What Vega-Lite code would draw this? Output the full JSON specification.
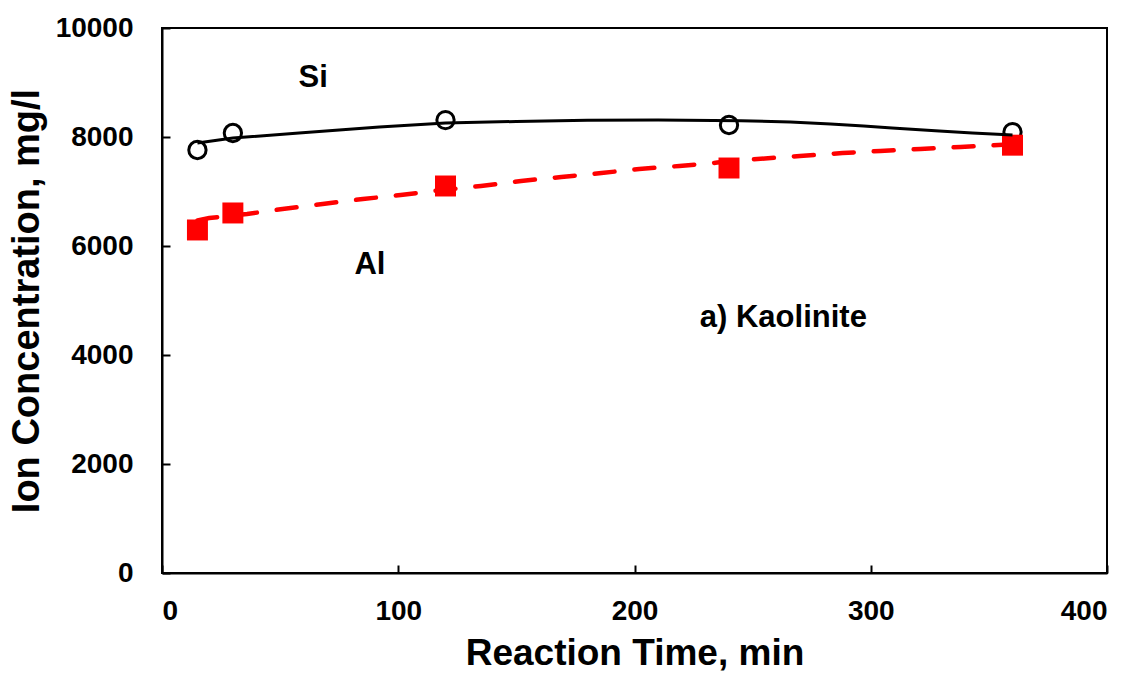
{
  "$schema": "https://vega.github.io/schema/vega-lite/v6.json",
  "width": 945,
  "height": 545,
  "autosize": "none",
  "padding": {"left": 162, "top": 28, "right": 28, "bottom": 100},
  "background": "white",
  "config": {
    "font": "Liberation Sans",
    "view": {"stroke": "black", "strokeWidth": 2},
    "axis": {
      "domainColor": "black", "domainWidth": 2,
      "tickColor": "black", "tickWidth": 2, "tickSize": -8,
      "grid": false,
      "labelFont": "Liberation Sans", "labelFontWeight": "bold", "labelFontSize": 28, "labelColor": "black",
      "titleFont": "Liberation Sans", "titleFontWeight": "bold", "titleFontSize": 37, "titleColor": "black"
    }
  },
  "datasets": {
    "obs": [
      {"series": "Si", "time": 15, "conc": 7761},
      {"series": "Si", "time": 30, "conc": 8073},
      {"series": "Si", "time": 120, "conc": 8310},
      {"series": "Si", "time": 240, "conc": 8220},
      {"series": "Si", "time": 360, "conc": 8090},
      {"series": "Al", "time": 15, "conc": 6294},
      {"series": "Al", "time": 30, "conc": 6606},
      {"series": "Al", "time": 120, "conc": 7101},
      {"series": "Al", "time": 240, "conc": 7431},
      {"series": "Al", "time": 360, "conc": 7850}
    ],
    "fit": [
      {"series": "Si", "time": 15, "conc": 7890},
      {"series": "Si", "time": 30, "conc": 7982},
      {"series": "Si", "time": 58, "conc": 8073},
      {"series": "Si", "time": 92, "conc": 8183},
      {"series": "Si", "time": 120, "conc": 8257},
      {"series": "Si", "time": 150, "conc": 8285},
      {"series": "Si", "time": 180, "conc": 8308},
      {"series": "Si", "time": 210, "conc": 8312},
      {"series": "Si", "time": 245, "conc": 8300},
      {"series": "Si", "time": 266, "conc": 8275},
      {"series": "Si", "time": 283, "conc": 8239},
      {"series": "Si", "time": 297, "conc": 8202},
      {"series": "Si", "time": 309, "conc": 8165},
      {"series": "Si", "time": 329, "conc": 8110},
      {"series": "Si", "time": 343, "conc": 8073},
      {"series": "Si", "time": 360, "conc": 8037},
      {"series": "Al", "time": 15, "conc": 6470},
      {"series": "Al", "time": 20, "conc": 6514},
      {"series": "Al", "time": 36, "conc": 6587},
      {"series": "Al", "time": 51, "conc": 6679},
      {"series": "Al", "time": 68, "conc": 6771},
      {"series": "Al", "time": 85, "conc": 6862},
      {"series": "Al", "time": 101, "conc": 6936},
      {"series": "Al", "time": 115, "conc": 7009},
      {"series": "Al", "time": 135, "conc": 7101},
      {"series": "Al", "time": 152, "conc": 7193},
      {"series": "Al", "time": 169, "conc": 7266},
      {"series": "Al", "time": 186, "conc": 7339},
      {"series": "Al", "time": 202, "conc": 7413},
      {"series": "Al", "time": 219, "conc": 7468},
      {"series": "Al", "time": 235, "conc": 7530},
      {"series": "Al", "time": 250, "conc": 7590},
      {"series": "Al", "time": 270, "conc": 7651},
      {"series": "Al", "time": 288, "conc": 7706},
      {"series": "Al", "time": 304, "conc": 7743},
      {"series": "Al", "time": 321, "conc": 7780},
      {"series": "Al", "time": 338, "conc": 7817},
      {"series": "Al", "time": 354, "conc": 7853},
      {"series": "Al", "time": 360, "conc": 7865}
    ],
    "labels": [
      {"text": "Si", "time": 64, "conc": 9083},
      {"text": "Al", "time": 88, "conc": 5651},
      {"text": "a) Kaolinite", "time": 263, "conc": 4679}
    ]
  },
  "encoding": {
    "x": {"field": "time", "type": "quantitative", "scale": {"domain": [0, 400], "nice": false, "zero": false},
      "axis": {"values": [0, 100, 200, 300, 400], "title": "Reaction Time, min", "labelPadding": 32, "titlePadding": 10}},
    "y": {"field": "conc", "type": "quantitative", "scale": {"domain": [0, 10000], "nice": false},
      "axis": {"values": [0, 2000, 4000, 6000, 8000, 10000], "format": "d", "title": "Ion Concentration, mg/l", "labelPadding": 37, "titlePadding": 9, "titleFontSize": 38}}
  },
  "layer": [
    {
      "data": {"name": "obs"},
      "transform": [{"filter": "datum.series === 'Si'"}],
      "mark": {"type": "point", "shape": "circle", "filled": false, "stroke": "black", "strokeWidth": 3, "size": 300, "opacity": 1}
    },
    {
      "data": {"name": "fit"},
      "transform": [{"filter": "datum.series === 'Al'"}],
      "mark": {"type": "line", "color": "#FF0000", "strokeWidth": 4.5, "strokeDash": [20, 20], "strokeCap": "round"}
    },
    {
      "data": {"name": "obs"},
      "transform": [{"filter": "datum.series === 'Al'"}],
      "mark": {"type": "point", "shape": "square", "filled": true, "color": "#FF0000", "size": 440, "opacity": 1}
    },
    {
      "data": {"name": "fit"},
      "transform": [{"filter": "datum.series === 'Si'"}],
      "mark": {"type": "line", "color": "black", "strokeWidth": 3}
    },
    {
      "data": {"name": "labels"},
      "mark": {"type": "text", "font": "Liberation Sans", "fontWeight": "bold", "fontSize": 31, "color": "black", "align": "center", "baseline": "middle"},
      "encoding": {"text": {"field": "text"}}
    }
  ]
}
